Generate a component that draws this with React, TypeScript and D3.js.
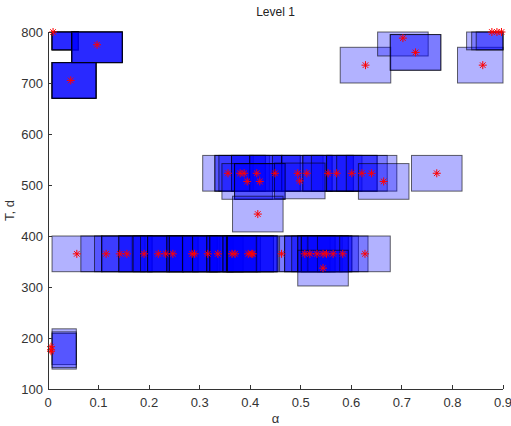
import * as d3 from "d3";

// centre of each tested window: alpha, period T (days), and how many runs landed on it
const alphaVals = [
  // upper left corner
  0.01, 0.097, 0.045,
  // lower left corner
  0.006, 0.006, 0.006,
  // upper right corner
  0.628, 0.702, 0.727, 0.86, 0.878, 0.888, 0.897,
  // T ~ 520 row
  0.356, 0.38, 0.388, 0.413, 0.449, 0.494, 0.512, 0.554, 0.571, 0.601, 0.621, 0.64, 0.769,
  0.394, 0.419, 0.498, 0.664,
  0.415,
  // T ~ 365 row
  0.057, 0.115, 0.142, 0.156, 0.19, 0.218, 0.233, 0.247, 0.285, 0.29, 0.316, 0.336, 0.364,
  0.37, 0.396, 0.403, 0.405, 0.462, 0.508, 0.518, 0.532, 0.544, 0.551, 0.564, 0.583, 0.627,
  0.544,
];

const periodVals = [
  800, 775, 705,
  183, 174, 177,
  735, 788, 760, 735, 800, 800, 800,
  523, 523, 523, 523, 523, 523, 523, 523, 523, 523, 523, 523, 523,
  507, 507, 508, 507,
  443,
  365, 365, 365, 365, 365, 365, 365, 365, 365, 365, 365, 365, 365,
  365, 365, 365, 365, 365, 365, 365, 365, 365, 365, 365, 365, 365,
  337,
];

const runCounts = [
  5, 5, 5,
  1, 1, 1,
  1, 1, 2, 1, 1, 1, 1,
  1, 2, 1, 2, 2, 1, 2, 2, 1, 2, 1, 1, 1,
  1, 2, 1, 1,
  1,
  1, 1, 1, 2, 2, 2, 1, 2, 2, 2, 2, 2, 2,
  2, 2, 2, 2, 1, 1, 2, 1, 2, 2, 1, 1, 1,
  1,
];

const xTicks = [0, 0.1, 0.2, 0.3, 0.4, 0.5, 0.6, 0.7, 0.8, 0.9];
const yTicks = [100, 200, 300, 400, 500, 600, 700, 800];

// half size of a window and the searched alpha / period range
const halfAlpha = 0.05;
const halfPeriod = 35;
const alphaRange = [0.008, 0.9];
const periodRange = [100, 800];

const W = 511;
const H = 426;
const font = "'Liberation Sans', Arial, sans-serif";

function starPath(r: number) {
  const k = r * 0.7;
  return `M${-r},0H${r}M0,${-r}V${r}M${-k},${-k}L${k},${k}M${-k},${k}L${k},${-k}`;
}

export default function App() {
  const x = d3.scaleLinear().domain([0, 0.9]).range([48, 503]);
  const y = d3.scaleLinear().domain([100, 800]).range([389, 32]);

  const boxes = alphaVals.flatMap((a, i) =>
    d3.range(runCounts[i]).map((k) => {
      const t = periodVals[i];
      const a0 = Math.max(a - halfAlpha, alphaRange[0]);
      const a1 = Math.min(a + halfAlpha, alphaRange[1]);
      const t0 = Math.max(t - halfPeriod, periodRange[0]);
      const t1 = Math.min(t + halfPeriod, periodRange[1]);
      return { key: `${i}-${k}`, x: x(a0), y: y(t1), w: x(a1) - x(a0), h: y(t0) - y(t1) };
    })
  );

  const [x0, x1] = x.range();
  const [yb, yt] = y.range();
  const star = starPath(4);

  return (
    <div style={{ position: "fixed", left: 0, top: 0 }}>
      <svg width={W} height={H} style={{ display: "block", background: "#fff" }}>
        <g>
          {boxes.map((b) => (
            <rect
              key={b.key}
              x={b.x}
              y={b.y}
              width={b.w}
              height={b.h}
              fill="#0000ff"
              fillOpacity={0.3}
              stroke="#000"
              strokeOpacity={0.6}
              strokeWidth={1}
            />
          ))}
        </g>
        <g stroke="#ff0000" strokeWidth={1} fill="none">
          {alphaVals.map((a, i) => (
            <path key={i} d={star} transform={`translate(${x(a)},${y(periodVals[i])})`} />
          ))}
        </g>

        {/* axes: left and bottom only, ticks pointing in */}
        <g stroke="#333" strokeWidth={1} fill="none" shapeRendering="crispEdges">
          <line x1={x0} x2={x1} y1={yb} y2={yb} />
          <line x1={x0} x2={x0} y1={yb} y2={yt} />
          {xTicks.map((t) => (
            <line key={t} x1={x(t)} x2={x(t)} y1={yb} y2={yb - 4} />
          ))}
          {yTicks.map((t) => (
            <line key={t} x1={x0} x2={x0 + 4} y1={y(t)} y2={y(t)} />
          ))}
        </g>
        <g fontFamily={font} fontSize={13} fill="#333">
          {xTicks.map((t) => (
            <text key={t} x={x(t)} y={yb + 18} textAnchor="middle">
              {d3.format("")(t)}
            </text>
          ))}
          {yTicks.map((t) => (
            <text key={t} x={x0 - 5} y={y(t) + 5} textAnchor="end">
              {t}
            </text>
          ))}
          <text x={(x0 + x1) / 2} y={423} textAnchor="middle">α</text>
          <text transform={`translate(14,${(yb + yt) / 2}) rotate(-90)`} textAnchor="middle">
            T, d
          </text>
        </g>
        <text x={(x0 + x1) / 2} y={16} textAnchor="middle" fontFamily={font} fontSize={12} fill="#222">
          Level 1
        </text>
      </svg>
    </div>
  );
}
